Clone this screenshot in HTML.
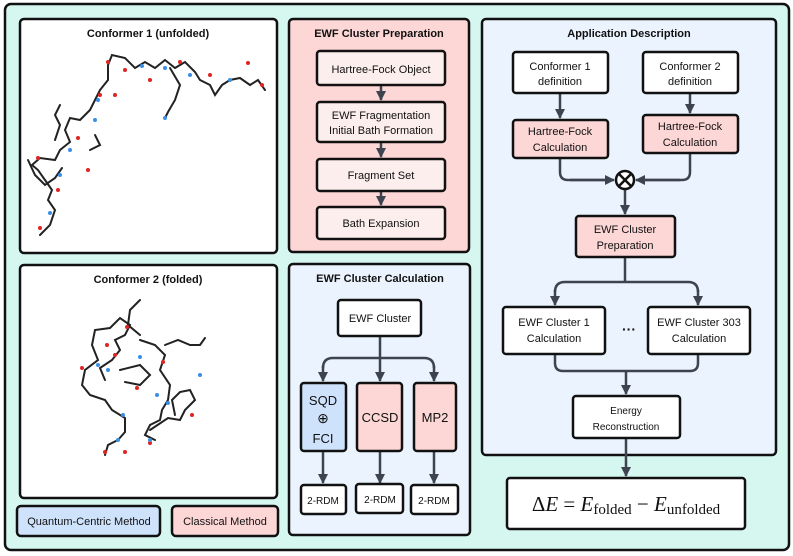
<!DOCTYPE html>
<html><head><meta charset="utf-8"><style>
html,body{margin:0;padding:0;background:#fff;}
svg{display:block;font-family:"Liberation Sans",sans-serif;}
.t{font-size:11px;fill:#111;text-anchor:middle;}
.h{font-size:11px;font-weight:bold;fill:#111;text-anchor:middle;}
</style></head><body>
<svg width="793" height="556" viewBox="0 0 793 556" xmlns="http://www.w3.org/2000/svg">
<defs>
<marker id="a" viewBox="0 0 10 10" refX="9" refY="5" markerWidth="4" markerHeight="4" orient="auto"><path d="M0,0 L10,5 L0,10z" fill="#3d4450"/></marker>
</defs>
<rect x="5" y="4" width="784" height="546" rx="6" fill="#d6f7f0" stroke="#111" stroke-width="2.5"/>
<!-- conformer boxes -->
<rect x="20" y="19" width="257" height="234" rx="4" fill="#fff" stroke="#111" stroke-width="2.5"/>
<text class="h" x="148" y="37">Conformer 1 (unfolded)</text>
<rect x="20" y="265" width="257" height="233" rx="4" fill="#fff" stroke="#111" stroke-width="2.5"/>
<text class="h" x="148" y="283">Conformer 2 (folded)</text>
<!-- molecule 1 -->
<g stroke="#222" stroke-width="2" fill="none" stroke-linecap="round">
<polyline points="40,235 50,225 55,210 48,200 52,190 45,180 38,170 32,165 40,158 55,160 60,150 70,142 65,130 70,118 80,120 90,110 95,100 100,90 108,80 108,65 112,55 125,58 135,68 145,62 155,68 165,60 175,68 185,62 195,72 200,80 210,85 215,95 222,85 230,80 240,78 250,85 258,80 265,90"/>
<polyline points="28,160 35,175 45,185 55,178 62,168"/>
<polyline points="55,140 60,125 55,115 60,105"/>
<polyline points="170,68 180,85 175,100 168,112 165,118"/>
<polyline points="95,135 100,145 90,150"/>
</g>
<g fill="#e02424"><circle cx="108" cy="62" r="2"/><circle cx="125" cy="70" r="2"/><circle cx="150" cy="80" r="2"/><circle cx="180" cy="62" r="2"/><circle cx="100" cy="95" r="2"/><circle cx="115" cy="95" r="2"/><circle cx="78" cy="138" r="2"/><circle cx="88" cy="170" r="2"/><circle cx="38" cy="158" r="2"/><circle cx="58" cy="190" r="2"/><circle cx="248" cy="63" r="2"/><circle cx="262" cy="85" r="2"/><circle cx="210" cy="75" r="2"/><circle cx="40" cy="228" r="2"/></g>
<g fill="#3b8ee8"><circle cx="142" cy="66" r="2"/><circle cx="165" cy="68" r="2"/><circle cx="190" cy="75" r="2"/><circle cx="230" cy="80" r="2"/><circle cx="98" cy="100" r="2"/><circle cx="70" cy="150" r="2"/><circle cx="60" cy="175" r="2"/><circle cx="50" cy="213" r="2"/><circle cx="165" cy="118" r="2"/><circle cx="95" cy="120" r="2"/></g>
<!-- molecule 2 -->
<g stroke="#222" stroke-width="2" fill="none" stroke-linecap="round">
<polyline points="105,380 100,368 112,360 120,350 115,340 125,335 130,325 120,318 110,328 95,330 92,345 98,360 85,370 82,385 90,395 105,400 112,410 125,418 125,432 118,440 108,445 105,455"/>
<polyline points="140,340 155,345 165,355 160,370 170,385 168,400 162,410 160,420 150,425 145,435 155,440"/>
<polyline points="150,430 168,418 180,420 185,410 195,400 190,390 180,392 172,400 175,415"/>
<polyline points="140,300 130,310 128,325 140,335"/>
<polyline points="165,345 178,340 190,345 200,345 205,338"/>
<polyline points="120,370 140,365 150,375 140,385 125,382"/>
</g>
<g fill="#e02424"><circle cx="107" cy="345" r="2"/><circle cx="82" cy="368" r="2"/><circle cx="115" cy="355" r="2"/><circle cx="137" cy="388" r="2"/><circle cx="192" cy="415" r="2"/><circle cx="105" cy="452" r="2"/><circle cx="125" cy="452" r="2"/><circle cx="163" cy="362" r="2"/><circle cx="150" cy="443" r="2"/><circle cx="127" cy="327" r="2"/></g>
<g fill="#3b8ee8"><circle cx="98" cy="365" r="2"/><circle cx="123" cy="415" r="2"/><circle cx="118" cy="440" r="2"/><circle cx="157" cy="395" r="2"/><circle cx="168" cy="403" r="2"/><circle cx="200" cy="375" r="2"/><circle cx="150" cy="440" r="2"/><circle cx="108" cy="370" r="2"/><circle cx="140" cy="357" r="2"/></g>
<!-- legend -->
<rect x="17" y="506" width="143" height="30" rx="4" fill="#cfe2fb" stroke="#111" stroke-width="2.5"/>
<text class="t" x="89" y="525">Quantum-Centric Method</text>
<rect x="172" y="506" width="106" height="30" rx="4" fill="#fdd6d6" stroke="#111" stroke-width="2.5"/>
<text class="t" x="225" y="525">Classical Method</text>

<!-- EWF prep -->
<rect x="289" y="19" width="180" height="233" rx="4" fill="#fdd6d6" stroke="#111" stroke-width="2.5"/>
<text class="h" x="379" y="37">EWF Cluster Preparation</text>
<g stroke="#3d4450" stroke-width="2.5" marker-end="url(#a)">
<line x1="381" y1="85" x2="381" y2="100"/><line x1="381" y1="142" x2="381" y2="157"/><line x1="381" y1="191" x2="381" y2="205"/>
</g>
<g fill="#fdeeee" stroke="#111" stroke-width="2.5">
<rect x="317" y="51" width="128" height="34" rx="3"/><rect x="317" y="102" width="128" height="40" rx="3"/>
<rect x="317" y="159" width="128" height="32" rx="3"/><rect x="317" y="207" width="128" height="32" rx="3"/>
</g>
<text class="t" x="381" y="73">Hartree-Fock Object</text>
<text class="t" x="381" y="119">EWF Fragmentation</text><text class="t" x="381" y="134">Initial Bath Formation</text>
<text class="t" x="381" y="179">Fragment Set</text>
<text class="t" x="381" y="227">Bath Expansion</text>

<!-- EWF calc -->
<rect x="289" y="264" width="181" height="271" rx="4" fill="#ebf3fe" stroke="#111" stroke-width="2.5"/>
<text class="h" x="380" y="282">EWF Cluster Calculation</text>
<g stroke="#3d4450" stroke-width="2.5" fill="none">
<path d="M380,336 V358 M323,368 Q323,358 333,358 H424 Q434,358 434,368"/>
</g>
<g stroke="#3d4450" stroke-width="2.5" marker-end="url(#a)">
<line x1="323" y1="366" x2="323" y2="381"/><line x1="380" y1="358" x2="380" y2="381"/><line x1="434" y1="366" x2="434" y2="381"/>
<line x1="323" y1="451" x2="323" y2="483"/><line x1="380" y1="451" x2="380" y2="483"/><line x1="434" y1="451" x2="434" y2="483"/>
</g>
<rect x="338" y="300" width="83" height="36" rx="3" fill="#fff" stroke="#111" stroke-width="2.5"/>
<text class="t" x="380" y="322">EWF Cluster</text>
<rect x="301" y="383" width="45" height="68" rx="3" fill="#cfe2fb" stroke="#111" stroke-width="2.5"/>
<rect x="357" y="383" width="45" height="68" rx="3" fill="#fdd6d6" stroke="#111" stroke-width="2.5"/>
<rect x="414" y="383" width="42" height="68" rx="3" fill="#fdd6d6" stroke="#111" stroke-width="2.5"/>
<text class="t" x="323" y="405" style="font-size:13px">SQD</text>
<text class="t" x="323" y="423" style="font-size:14px">⊕</text>
<text class="t" x="323" y="443" style="font-size:13px">FCI</text>
<text class="t" x="380" y="422" style="font-size:13px">CCSD</text>
<text class="t" x="435" y="422" style="font-size:13px">MP2</text>
<g fill="#fff" stroke="#111" stroke-width="2.5">
<rect x="301" y="485" width="45" height="29" rx="3"/><rect x="356" y="484" width="47" height="29" rx="3"/><rect x="411" y="485" width="47" height="29" rx="3"/>
</g>
<text class="t" x="323" y="504" style="font-size:10px">2-RDM</text>
<text class="t" x="380" y="503" style="font-size:10px">2-RDM</text>
<text class="t" x="434" y="504" style="font-size:10px">2-RDM</text>

<!-- application -->
<rect x="482" y="19" width="294" height="436" rx="4" fill="#ebf3fe" stroke="#111" stroke-width="2.5"/>
<text class="h" x="629" y="37">Application Description</text>
<g stroke="#3d4450" stroke-width="2.5" fill="none">
<path d="M560,158 V172 Q560,180 568,180 H612"/>
<path d="M690,153 V172 Q690,180 682,180 H638"/>
<path d="M625,257 V282 M555,292 Q555,282 565,282 H688 Q698,282 698,292"/>
<path d="M555,354 V363 Q555,371 563,371 H690 Q698,371 698,363 V354"/>
</g>
<g stroke="#3d4450" stroke-width="2.5" marker-end="url(#a)">
<line x1="560" y1="93" x2="560" y2="118"/><line x1="690" y1="93" x2="690" y2="113"/>
<line x1="570" y1="180" x2="614" y2="180"/><line x1="680" y1="180" x2="636" y2="180"/>
<line x1="625" y1="190" x2="625" y2="214"/>
<line x1="555" y1="290" x2="555" y2="305"/><line x1="698" y1="290" x2="698" y2="305"/>
<line x1="626" y1="371" x2="626" y2="394"/><line x1="626" y1="438" x2="626" y2="476"/>
</g>
<circle cx="625" cy="180" r="9" fill="#fff" stroke="#111" stroke-width="2.5"/>
<path d="M619,174 L631,186 M631,174 L619,186" stroke="#111" stroke-width="2.5"/>
<g stroke="#111" stroke-width="2.5">
<rect x="513" y="52" width="95" height="41" rx="3" fill="#fff"/><rect x="643" y="52" width="95" height="41" rx="3" fill="#fff"/>
<rect x="513" y="120" width="95" height="38" rx="3" fill="#fdd6d6"/><rect x="643" y="115" width="95" height="38" rx="3" fill="#fdd6d6"/>
<rect x="576" y="216" width="99" height="41" rx="3" fill="#fdd6d6"/>
<rect x="503" y="307" width="102" height="47" rx="3" fill="#fff"/><rect x="648" y="307" width="102" height="47" rx="3" fill="#fff"/>
<rect x="573" y="396" width="107" height="42" rx="3" fill="#fff"/>
<rect x="507" y="478" width="238" height="51" rx="3" fill="#fff"/>
</g>
<text class="t" x="560" y="70">Conformer 1</text><text class="t" x="560" y="85">definition</text>
<text class="t" x="690" y="70">Conformer 2</text><text class="t" x="690" y="85">definition</text>
<text class="t" x="560" y="135">Hartree-Fock</text><text class="t" x="560" y="151">Calculation</text>
<text class="t" x="690" y="130">Hartree-Fock</text><text class="t" x="690" y="146">Calculation</text>
<text class="t" x="625" y="233">EWF Cluster</text><text class="t" x="625" y="249">Preparation</text>
<text class="t" x="554" y="326">EWF Cluster 1</text><text class="t" x="554" y="342">Calculation</text>
<text class="t" x="699" y="326">EWF Cluster 303</text><text class="t" x="699" y="342">Calculation</text>
<text class="t" x="629" y="334" style="font-size:14px;font-weight:bold">···</text>
<text class="t" x="626" y="414" style="font-size:10px">Energy</text><text class="t" x="626" y="430" style="font-size:10px">Reconstruction</text>
<text x="626" y="511" text-anchor="middle" style="font-family:'Liberation Serif',serif;font-size:21px;fill:#111">Δ<tspan font-style="italic">E</tspan> = <tspan font-style="italic">E</tspan><tspan font-size="15" dy="3">folded</tspan><tspan dy="-3"> − </tspan><tspan font-style="italic">E</tspan><tspan font-size="15" dy="3">unfolded</tspan></text>
</svg>
</body></html>
